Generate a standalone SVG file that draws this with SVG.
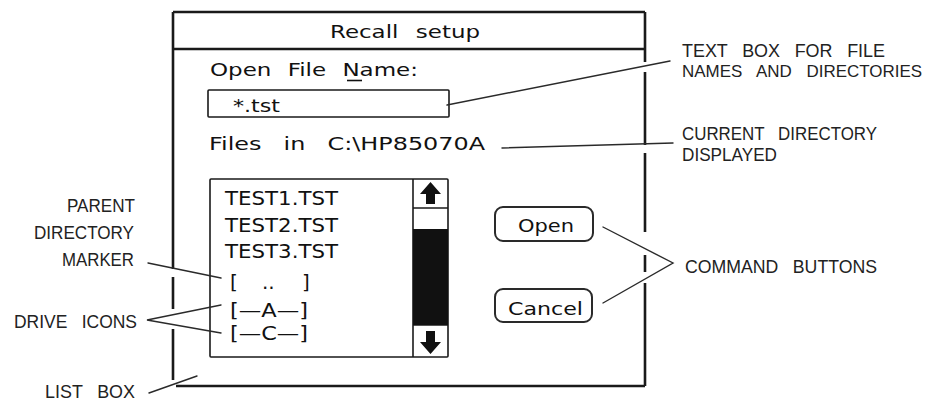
<svg xmlns="http://www.w3.org/2000/svg" width="935" height="402" viewBox="0 0 935 402">
  <style>
    .frame { fill: none; stroke: #1a1a1a; stroke-width: 2.6; stroke-linecap: butt; }
    .box { fill: #fff; stroke: #1a1a1a; stroke-width: 1.6; }
    .btn { fill: #fff; stroke: #2a2a2a; stroke-width: 2; }
    .lead { fill: none; stroke: #2a2a2a; stroke-width: 1.4; stroke-linecap: round; }
    .ui { font-family: "DejaVu Sans", "Liberation Sans", sans-serif; font-size: 18px; fill: #111; }
    .item { font-family: "DejaVu Sans", "Liberation Sans", sans-serif; font-size: 20px; fill: #111; }
    .label { font-family: "Liberation Sans", Arial, sans-serif; font-size: 18.5px; fill: #222; word-spacing: 10px; }
  </style>
  <rect width="935" height="402" fill="#fff"/>

  <!-- dialog window: frame with openings where leader lines pass -->
  <g id="dialog">
    <path class="frame" d="M173,12 H645 M173,49 H645
      M173,12 V269 M173,277 V309 M173,329 V380
      M176,386 H645
      M645,12 V62 M645,72 V145 M645,153 V232 M645,255 V272 M645,283 V386"/>
    <text class="ui" x="330" y="38" textLength="150" lengthAdjust="spacingAndGlyphs" style="word-spacing:8px">Recall setup</text>
  </g>

  <g id="file-name">
    <text class="ui" x="210" y="76" textLength="208" lengthAdjust="spacingAndGlyphs" style="word-spacing:7px">Open File Name:</text>
    <line x1="347" y1="80.5" x2="362" y2="80.5" stroke="#111" stroke-width="1.6"/>
  </g>

  <g id="text-box">
    <rect class="box" x="208" y="90" width="241" height="27" rx="1"/>
    <text class="ui" x="233" y="112" textLength="47" lengthAdjust="spacingAndGlyphs">*.tst</text>
  </g>

  <g id="current-directory">
    <text class="ui" x="209" y="150" textLength="276" lengthAdjust="spacingAndGlyphs" style="word-spacing:11px">Files in C:\HP85070A</text>
  </g>

  <!-- file list with scroll bar -->
  <g id="list-box">
    <rect class="box" x="210" y="179" width="238" height="178" rx="1"/>
    <line x1="413" y1="179" x2="413" y2="357" stroke="#1a1a1a" stroke-width="1.6"/>
    <line x1="413" y1="208" x2="448" y2="208" stroke="#1a1a1a" stroke-width="1.6"/>
    <line x1="413" y1="325" x2="448" y2="325" stroke="#1a1a1a" stroke-width="1.6"/>
    <rect x="413" y="229" width="35" height="96" fill="#111"/>
    <polygon points="430.5,182 441,194 435,194 435,204 426,204 426,194 420,194" fill="#111"/>
    <polygon points="430.5,354 441,342 435,342 435,331 426,331 426,342 420,342" fill="#111"/>
    <text class="item" x="225" y="205" textLength="113" lengthAdjust="spacingAndGlyphs">TEST1.TST</text>
    <text class="item" x="225" y="232" textLength="113" lengthAdjust="spacingAndGlyphs">TEST2.TST</text>
    <text class="item" x="225" y="258" textLength="113" lengthAdjust="spacingAndGlyphs">TEST3.TST</text>
    <text class="item" x="230" y="289">[ <tspan x="262">..</tspan> <tspan x="302">]</tspan></text>
    <text class="item" x="230" y="317" textLength="78" lengthAdjust="spacingAndGlyphs">[—A—]</text>
    <text class="item" x="230" y="340" textLength="78" lengthAdjust="spacingAndGlyphs">[—C—]</text>
  </g>

  <g id="open-button">
    <rect class="btn" x="495" y="207" width="98" height="34" rx="8"/>
    <text class="ui" x="518" y="232" textLength="56" lengthAdjust="spacingAndGlyphs">Open</text>
  </g>

  <g id="cancel-button">
    <rect class="btn" x="495" y="289" width="97" height="33" rx="8"/>
    <text class="ui" x="508" y="315" textLength="75" lengthAdjust="spacingAndGlyphs">Cancel</text>
  </g>

  <!-- callout labels -->
  <g id="label-text-box">
    <text class="label" x="682" y="57" textLength="203" lengthAdjust="spacingAndGlyphs">TEXT BOX FOR FILE</text>
    <text class="label" x="682" y="77" textLength="240" lengthAdjust="spacingAndGlyphs" style="font-size:17px">NAMES AND DIRECTORIES</text>
  </g>
  <g id="label-current-directory">
    <text class="label" x="682" y="140" textLength="195" lengthAdjust="spacingAndGlyphs">CURRENT DIRECTORY</text>
    <text class="label" x="682" y="161" textLength="95" lengthAdjust="spacingAndGlyphs">DISPLAYED</text>
  </g>
  <g id="label-command-buttons">
    <text class="label" x="685" y="273" textLength="192" lengthAdjust="spacingAndGlyphs">COMMAND BUTTONS</text>
  </g>
  <g id="label-parent-marker">
    <text class="label" x="135" y="212" text-anchor="end" textLength="68" lengthAdjust="spacingAndGlyphs">PARENT</text>
    <text class="label" x="134" y="239" text-anchor="end" textLength="100" lengthAdjust="spacingAndGlyphs">DIRECTORY</text>
    <text class="label" x="134" y="266" text-anchor="end" textLength="72" lengthAdjust="spacingAndGlyphs">MARKER</text>
  </g>
  <g id="label-drive-icons">
    <text class="label" x="14" y="328" textLength="123" lengthAdjust="spacingAndGlyphs">DRIVE ICONS</text>
  </g>
  <g id="label-list-box">
    <text class="label" x="45" y="398" textLength="90" lengthAdjust="spacingAndGlyphs">LIST BOX</text>
  </g>

  <!-- leader lines -->
  <g id="connectors">
    <line class="lead" x1="447" y1="105" x2="670" y2="61"/>
    <line class="lead" x1="502" y1="148" x2="673" y2="143"/>
    <polyline class="lead" points="603,227 673,263 603,303"/>
    <line class="lead" x1="148" y1="263" x2="221" y2="278"/>
    <polyline class="lead" points="221,305 147,320 221,333"/>
    <line class="lead" x1="149" y1="393" x2="197" y2="376"/>
  </g>
</svg>
